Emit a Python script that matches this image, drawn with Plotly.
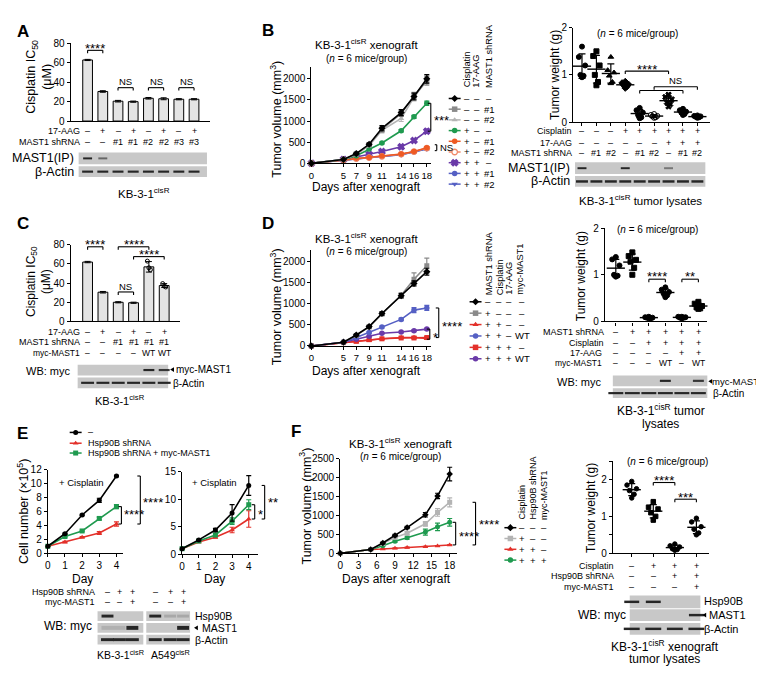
import numpy as np
import plotly.graph_objects as go

W, H = 764, 674
FONT = "Liberation Sans, Arial, Helvetica, sans-serif"

# ======================= DATA =======================
# Panel A
A_ic50 = [63, 30.5, 20.5, 20, 23.5, 23, 22.5, 22.5]
A_err = [0.6, 0.8, 0.8, 0.6, 0.8, 1.0, 0.6, 0.6]
A_aag = ['–', '+', '–', '+', '–', '+', '–', '+']
A_shrna = ['–', '–', '#1', '#1', '#2', '#2', '#3', '#3']
A_band_mast1 = [1.0, 0.6, 0, 0, 0, 0, 0, 0]
A_band_actin = [1, 1, 1, 1, 1, 1, 1, 1]

# Panel B (tumor volume)
B_days = [0, 5, 7, 9, 11, 14, 16, 18]
B_ctrl = [0, 90, 230, 450, 830, 1200, 1580, 2000]
B_sh1 = [0, 90, 220, 440, 800, 1180, 1600, 1950]
B_sh2 = [0, 90, 210, 420, 780, 1060, 1560, 1980]
B_cis = [0, 90, 180, 340, 480, 770, 1100, 1420]
B_cis_sh1 = [0, 80, 120, 140, 170, 220, 280, 370]
B_cis_sh2 = [0, 80, 110, 135, 165, 215, 275, 360]
B_cis_aag = [0, 90, 150, 210, 280, 390, 540, 760]
B_cis_aag_sh1 = [0, 80, 110, 140, 170, 210, 270, 350]
B_cis_aag_sh2 = [0, 80, 105, 135, 160, 205, 265, 340]
B_err_hi = [0, 10, 30, 30, 60, 70, 80, 100]
B_err_mid = [0, 8, 15, 15, 20, 25, 35, 50]
B_err_lo = [0, 5, 10, 10, 10, 15, 20, 25]
B_leg_cis = ['–', '–', '–', '+', '+', '+', '+', '+', '+']
B_leg_aag = ['–', '–', '–', '–', '–', '–', '+', '+', '+']
B_leg_sh = ['–', '#1', '#2', '–', '#1', '#2', '–', '#1', '#2']

# Panel B (tumor weight)
B_w_ctrl = [1.6, 1.38, 1.2, 1.0, 0.98, 0.95]
B_w_sh1 = [1.5, 1.4, 1.2, 1.0, 0.85, 0.78]
B_w_sh2 = [1.38, 1.1, 1.05, 0.98, 0.85, 0.82]
B_w_cis = [0.86, 0.83, 0.8, 0.78, 0.75, 0.72]
B_w_cis_sh1 = [0.3, 0.25, 0.2, 0.15, 0.1, 0.08]
B_w_cis_sh2 = [0.17, 0.15, 0.13, 0.12, 0.1, 0.09]
B_w_cis_aag = [0.58, 0.53, 0.48, 0.42, 0.38, 0.33]
B_w_cis_aag_sh1 = [0.28, 0.25, 0.22, 0.2, 0.17, 0.15]
B_w_cis_aag_sh2 = [0.14, 0.13, 0.12, 0.11, 0.1, 0.09]
B_row_cis = ['–', '–', '–', '+', '+', '+', '+', '+', '+']
B_row_aag = ['–', '–', '–', '–', '–', '–', '+', '+', '+']
B_row_sh = ['–', '#1', '#2', '–', '#1', '#2', '–', '#1', '#2']
B_band_mast1 = [1, 0, 0, 1, 0, 0, 0.5, 0, 0]
B_band_actin = [1, 1, 1, 1, 1, 1, 1, 1, 1]

# Panel C
C_ic50 = [62, 30.5, 20, 19.5, 57, 37.5]
C_err = [0.7, 0.8, 0.6, 0.6, 5.5, 2.0]
C_rep_wt = [63, 56, 54]
C_rep_wt_aag = [39.5, 37, 36]
C_aag = ['–', '+', '–', '+', '–', '+']
C_shrna = ['–', '–', '#1', '#1', '#1', '#1']
C_myc = ['–', '–', '–', '–', 'WT', 'WT']
C_band_myc = [0, 0, 0, 0, 1, 0.9]
C_band_actin = [1, 1, 1, 1, 1, 1]

# Panel D (tumor volume)
D_days = [0, 5, 7, 9, 11, 14, 16, 18]
D_ctrl = [0, 90, 260, 460, 770, 1190, 1480, 1760]
D_sh = [0, 90, 250, 450, 760, 1200, 1580, 1900]
D_sh_cis = [0, 80, 100, 130, 170, 200, 200, 180]
D_sh_cis_wt = [0, 90, 200, 320, 450, 630, 850, 900]
D_sh_cis_aag = [0, 80, 110, 150, 170, 190, 190, 200]
D_sh_cis_aag_wt = [0, 90, 160, 230, 300, 330, 360, 400]
D_err_ctrl = [0, 10, 20, 30, 40, 50, 60, 80]
D_err_sh = [0, 10, 20, 30, 40, 60, 150, 180]
D_err_wt = [0, 5, 10, 20, 20, 30, 60, 60]
D_err_lo = [0, 5, 10, 10, 10, 15, 20, 20]
D_leg_sh = ['–', '+', '+', '+', '+', '+']
D_leg_cis = ['–', '–', '+', '+', '+', '+']
D_leg_aag = ['–', '–', '–', '–', '+', '+']
D_leg_myc = ['–', '–', '–', 'WT', '–', 'WT']

# Panel D (tumor weight)
D_w_ctrl = [1.38, 1.33, 1.2, 1.0, 0.98, 0.96]
D_w_sh = [1.48, 1.4, 1.32, 1.28, 1.15, 1.0]
D_w_sh_cis = [0.1, 0.09, 0.08, 0.08, 0.07, 0.07]
D_w_sh_cis_wt = [0.73, 0.68, 0.63, 0.6, 0.56, 0.52]
D_w_sh_cis_aag = [0.1, 0.1, 0.09, 0.08, 0.08, 0.07]
D_w_sh_cis_aag_wt = [0.42, 0.38, 0.33, 0.3, 0.28, 0.27]
D_row_sh = ['–', '+', '+', '+', '+', '+']
D_row_cis = ['–', '–', '+', '+', '+', '+']
D_row_aag = ['–', '–', '–', '–', '+', '+']
D_row_myc = ['–', '–', '–', 'WT', '–', 'WT']
D_band_myc = [0, 0, 0, 1, 0, 0.9]
D_band_actin = [1, 1, 1, 1, 1, 1]

# Panel E
E_days = [0, 1, 2, 3, 4]
E_kb_ctrl = [1, 2.8, 5.5, 7.6, 11.1]
E_kb_sh = [1, 1.6, 2.3, 2.9, 4.2]
E_kb_sh_myc = [1, 2.4, 3.2, 5.0, 6.7]
E_kb_err_ctrl = [0, 0.1, 0.1, 0.3, 0.1]
E_kb_err_sh = [0, 0.1, 0.1, 0.2, 0.3]
E_kb_err_myc = [0, 0.1, 0.1, 0.2, 0.3]
E_a549_ctrl = [1, 2.6, 4.4, 7.5, 12.5]
E_a549_sh = [1, 2.2, 3.1, 4.4, 6.4]
E_a549_sh_myc = [1, 2.4, 3.5, 6.0, 9.0]
E_a549_err_ctrl = [0, 0.1, 0.3, 1.5, 1.8]
E_a549_err_sh = [0, 0.1, 0.2, 0.5, 1.5]
E_a549_err_myc = [0, 0.1, 0.3, 0.6, 0.9]
E_row_sh = ['–', '+', '+']
E_row_myc = ['–', '–', '+']
E_kb_band_hsp = [1, 0, 0]
E_kb_band_mast1 = [0.15, 0.15, 1]
E_a549_band_hsp = [1, 0.2, 0.2]
E_a549_band_mast1 = [0, 0, 1]
E_band_actin = [1, 1, 1]

# Panel F
F_days = [0, 5, 7, 9, 11, 14, 16, 18]
F_ctrl = [0, 100, 270, 470, 680, 1020, 1520, 2100]
F_cis = [0, 100, 260, 420, 530, 780, 1080, 1350]
F_cis_sh = [0, 100, 110, 130, 150, 170, 190, 220]
F_cis_sh_myc = [0, 100, 200, 320, 410, 560, 700, 820]
F_err_ctrl = [0, 10, 20, 30, 30, 60, 70, 180]
F_err_cis = [0, 10, 20, 30, 40, 60, 100, 120]
F_err_sh = [0, 5, 10, 10, 10, 10, 10, 10]
F_err_myc = [0, 10, 20, 30, 40, 80, 100, 100]
F_leg_cis = ['–', '+', '+', '+']
F_leg_sh = ['–', '–', '+', '+']
F_leg_myc = ['–', '–', '–', '+']
F_w_ctrl = [1.95, 1.85, 1.75, 1.7, 1.6, 1.5]
F_w_cis = [1.4, 1.25, 1.2, 1.1, 1.0, 0.9]
F_w_cis_sh = [0.25, 0.2, 0.17, 0.12, 0.1, 0.08]
F_w_cis_sh_myc = [0.95, 0.85, 0.72, 0.65, 0.55, 0.5]
F_row_cis = ['–', '+', '+', '+']
F_row_sh = ['–', '–', '+', '+']
F_row_myc = ['–', '–', '–', '+']
F_band_hsp = [1, 1, 0, 0]
F_band_mast1 = [0, 0, 0, 1]
F_band_actin = [1, 1, 1, 1]

# ======================= HELPERS =======================
traces, ann, shapes, layout = [], [], [], {}
BLACK = 'black'
GRAY = '#8a8a8a'
LGRAY = '#b4b4b4'
GREEN = '#1f9a4f'
ORANGE = '#ee5a24'
SALMON = '#f08a6a'
PURPLE = '#6a3aa8'
BLUE = '#5560c4'
RED = '#e3302a'
BLOT = '#c8c8c8'
ROW = 9          # row-label font size
TICK = 10        # tick label font size
STAR = 13        # significance asterisks
LET = 17         # panel letters


def xa(n):
    return 'x' if n == 1 else f'x{n}'


def ya(n):
    return 'y' if n == 1 else f'y{n}'


def lin(cal, v):
    v0, p0, v1, p1 = cal
    return p0 + (v - v0) * (p1 - p0) / (v1 - v0)


def inv(cal, p):
    v0, p0, v1, p1 = cal
    return v0 + (p - p0) * (v1 - v0) / (p1 - p0)


class Panel:
    def __init__(self, n, xd, yd, xcal, ycal):
        self.n, self.xd, self.yd, self.xcal, self.ycal = n, xd, yd, xcal, ycal

    def X(self, v):
        return lin(self.xcal, v)

    def Y(self, v):
        return lin(self.ycal, v)


def add_axes(P, xkw=None, ykw=None):
    base = dict(showline=True, linecolor='black', linewidth=1.2, showgrid=False,
                zeroline=False, ticks='outside', ticklen=3, tickwidth=1.1, tickangle=0,
                tickcolor='black', tickfont=dict(family=FONT, size=TICK, color='black'),
                fixedrange=True)
    xd = dict(base)
    xd.update(domain=[P.xd[0] / W, P.xd[1] / W],
              range=[inv(P.xcal, P.xd[0]), inv(P.xcal, P.xd[1])], anchor=ya(P.n))
    xd.update(xkw or {})
    yd = dict(base)
    yd.update(domain=[1 - P.yd[1] / H, 1 - P.yd[0] / H],
              range=[inv(P.ycal, P.yd[1]), inv(P.ycal, P.yd[0])], anchor=xa(P.n))
    yd.update(ykw or {})
    layout['xaxis' if P.n == 1 else f'xaxis{P.n}'] = xd
    layout['yaxis' if P.n == 1 else f'yaxis{P.n}'] = yd


def T(text, x, y, size=9, xanc='center', yanc='middle', angle=0, bold=False, color='black'):
    if bold:
        text = f'<b>{text}</b>'
    ann.append(dict(text=text, x=x / W, y=1 - y / H, xref='paper', yref='paper',
                    showarrow=False, xanchor=xanc, yanchor=yanc, textangle=angle,
                    font=dict(family=FONT, size=size, color=color)))


def S(text, x, y, xanc='center'):
    # asterisks sit high in the line box: shift the box down a little
    T(text, x, y + 3, size=STAR, xanc=xanc)


def L(x0, y0, x1, y1, w=1.1, c='black'):
    shapes.append(dict(type='line', xref='paper', yref='paper', x0=x0 / W, y0=1 - y0 / H,
                       x1=x1 / W, y1=1 - y1 / H, line=dict(color=c, width=w)))


def R(x0, y0, x1, y1, fill):
    shapes.append(dict(type='rect', xref='paper', yref='paper', x0=x0 / W, y0=1 - y0 / H,
                       x1=x1 / W, y1=1 - y1 / H, line=dict(width=0), fillcolor=fill))


def arrowhead(x, y, s=2.4):
    path = (f'M {x / W} {1 - y / H} L {(x + 1.6 * s) / W} {1 - (y - s) / H} '
            f'L {(x + 1.6 * s) / W} {1 - (y + s) / H} Z')
    shapes.append(dict(type='path', xref='paper', yref='paper', path=path,
                       fillcolor='black', line=dict(width=0)))


def hbr(x0, x1, y, tick=3):
    L(x0, y, x1, y)
    L(x0, y, x0, y + tick)
    L(x1, y, x1, y + tick)


def vbr(x, y0, y1, tick=3):
    L(x, y0, x, y1)
    L(x, y0, x - tick, y0)
    L(x, y1, x - tick, y1)


def rows(xs, labels, y, size=ROW):
    for x, lab in zip(xs, labels):
        T(lab, x, y, size=size)


def blot(xs, bx0, bx1, y0, y1, inten, bw=10, bh=2.5):
    R(bx0, y0, bx1, y1, BLOT)
    yc = (y0 + y1) / 2
    for x, v in zip(xs, inten):
        if v > 0:
            shapes.append(dict(type='rect', xref='paper', yref='paper',
                               x0=(x - bw / 2) / W, x1=(x + bw / 2) / W,
                               y0=1 - (yc + bh / 2) / H, y1=1 - (yc - bh / 2) / H,
                               line=dict(width=0), fillcolor='#262626', opacity=v))


def series(P, xs, ys, err, color, symbol, size=5.5, open_=False, lw=1.6):
    mk = dict(symbol=symbol, size=size, color='white' if open_ else color,
              line=dict(color=color, width=1.3 if (open_ or symbol == 'x') else 0))
    traces.append(go.Scatter(x=xs, y=ys, mode='lines+markers', line=dict(color=color, width=lw),
                             marker=mk, cliponaxis=False,
                             error_y=dict(type='data', array=err, color=color, thickness=1.2, width=2.5),
                             xaxis=xa(P.n), yaxis=ya(P.n), showlegend=False, hoverinfo='skip'))


JIT = [0.0, -0.22, 0.22, -0.11, 0.11, 0.0]


def dotplot(P, groups, symbols, size=5, mw=13):
    for i, vals in enumerate(groups):
        xs = [i + JIT[k] for k in range(len(vals))]
        sym = symbols[i]
        traces.append(go.Scatter(x=xs, y=vals, mode='markers', cliponaxis=False,
                                 marker=dict(symbol=sym, size=size, color='black',
                                             line=dict(color='black', width=1)),
                                 xaxis=xa(P.n), yaxis=ya(P.n), showlegend=False, hoverinfo='skip'))
        m = float(np.mean(vals))
        s = float(np.std(vals, ddof=1))
        traces.append(go.Scatter(x=[i], y=[m], mode='markers', cliponaxis=False,
                                 marker=dict(symbol='line-ew', size=mw, color='black',
                                             line=dict(color='black', width=1.4)),
                                 error_y=dict(type='data', array=[s], color='black', thickness=1.2, width=3.5),
                                 xaxis=xa(P.n), yaxis=ya(P.n), showlegend=False, hoverinfo='skip'))


# pixel overlay axis (for legend keys)
PX = 11


def legkey(x, y, color, symbol, size=5.5, open_=False, half=6):
    traces.append(go.Scatter(x=[x - half, x + half], y=[y, y], mode='lines',
                             line=dict(color=color, width=1.5), xaxis=xa(PX), yaxis=ya(PX),
                             showlegend=False, hoverinfo='skip'))
    traces.append(go.Scatter(x=[x], y=[y], mode='markers',
                             marker=dict(symbol=symbol, size=size, color='white' if open_ else color,
                                         line=dict(color=color, width=1.3 if (open_ or symbol == 'x') else 0)),
                             xaxis=xa(PX), yaxis=ya(PX), showlegend=False, hoverinfo='skip'))


# ======================= PANELS =======================
PA = Panel(1, (60, 200), (30, 109), (0, 77, 7, 184), (0, 109, 80, 30))
PBL = Panel(2, (302, 422), (54, 152), (0, 302, 18, 418), (0, 152, 2000, 66))
PBR = Panel(3, (565, 703), (14, 110), (0, 574, 8, 690), (0, 110, 2, 14))
PC = Panel(4, (60, 170), (235, 313), (0, 77, 5, 154), (0, 313, 80, 235))
PDL = Panel(5, (302, 422), (240, 338), (0, 302, 18, 418), (0, 338, 2000, 252))
PDR = Panel(6, (597, 700), (218, 313), (0, 608, 5, 691), (0, 313, 2, 218))
PEL = Panel(7, (37, 113), (464, 549), (0, 37, 4, 106), (0, 549, 12, 464))
PER = Panel(8, (172, 248), (466, 550), (0, 172, 4, 239), (0, 550, 15, 466))
PFL = Panel(9, (331, 448), (453, 549), (0, 331, 18, 441), (0, 549, 2500, 453))
PFR = Panel(10, (605, 702), (455, 549), (0, 624, 3, 689), (0, 549, 2, 474))

nobar = dict(ticks='', showticklabels=False)
dayfont = dict(family=FONT, size=9.5, color='black')

# ---------- Panel A ----------
add_axes(PA, nobar, dict(tickvals=[0, 20, 40, 60, 80]))
traces.append(go.Bar(x=list(range(len(A_ic50))), y=A_ic50, width=0.64,
                     marker=dict(color='#e4e4e4', line=dict(color='black', width=1)),
                     error_y=dict(type='data', array=A_err, color='black', thickness=1, width=3),
                     xaxis='x', yaxis='y', showlegend=False, hoverinfo='skip'))
T('A', 12, 18, size=LET, bold=True)
T('Cisplatin IC<sub>50</sub><br>(μM)', 28, 64, size=12.5, angle=-90)
ax = [PA.X(i) for i in range(8)]
hbr(ax[0], ax[1], 37)
S('****', (ax[0] + ax[1]) / 2, 32)
for a, b in [(2, 3), (4, 5), (6, 7)]:
    hbr(ax[a], ax[b], 75)
    T('NS', (ax[a] + ax[b]) / 2, 69, size=9.5)
T('17-AAG', 71, 119, size=ROW, xanc='right')
T('MAST1 shRNA', 71, 130, size=ROW, xanc='right')
rows(ax, A_aag, 119)
rows(ax, A_shrna, 130)
blot(ax, 68, 197, 141, 153, A_band_mast1, bw=9, bh=2)
blot(ax, 68, 197, 155, 166, A_band_actin, bw=11, bh=2.2)
T('MAST1(IP)', 65, 147, size=12.5, xanc='right')
T('β-Actin', 65, 161, size=12.5, xanc='right')
T('KB-3-1<sup>cisR</sup>', 134, 182, size=11.5)

# ---------- Panel B (volume) ----------
add_axes(PBL, dict(tickvals=B_days, tickfont=dayfont), dict(tickvals=[0, 500, 1000, 1500, 2000]))
series(PBL, B_days, B_cis_aag_sh2, B_err_lo, BLUE, 'triangle-down')
series(PBL, B_days, B_cis_aag_sh1, B_err_lo, BLUE, 'circle')
series(PBL, B_days, B_cis_aag, B_err_mid, PURPLE, 'x', size=5.5)
series(PBL, B_days, B_cis_sh2, B_err_lo, SALMON, 'circle', open_=True)
series(PBL, B_days, B_cis_sh1, B_err_lo, ORANGE, 'circle')
series(PBL, B_days, B_cis, B_err_mid, GREEN, 'circle')
series(PBL, B_days, B_sh2, B_err_hi, LGRAY, 'triangle-up')
series(PBL, B_days, B_sh1, B_err_hi, GRAY, 'square', size=5)
series(PBL, B_days, B_ctrl, B_err_hi, BLACK, 'diamond')
T('B', 258, 17, size=LET, bold=True)
T('KB-3-1<sup>cisR</sup> xenograft', 357, 31, size=11.5)
T('(<i>n</i> = 6 mice/group)', 357, 45, size=10)
T('Tumor volume (mm<sup>3</sup>)', 266, 107, size=12.5, angle=-90)
T('Days after xenograft', 357, 176, size=12)
vbr(422, PBL.Y(1420), PBL.Y(760))
S('***', 423, (PBL.Y(1420) + PBL.Y(760)) / 2, xanc='left')
L(426, PBL.Y(370) - 3, 428, PBL.Y(370) - 3)
L(428, PBL.Y(370) - 3, 428, PBL.Y(370) + 3)
L(426, PBL.Y(370) + 3, 428, PBL.Y(370) + 3)
T('NS', 429, PBL.Y(370), size=9.5, xanc='left')
for x, lab in [(458, 'Cisplatin'), (468, '17-AAG'), (480, 'MAST1 shRNA')]:
    T(lab, x, 77, size=9.3, angle=-90, yanc='bottom')
B_keys = [(BLACK, 'diamond', False), (GRAY, 'square', False), (LGRAY, 'triangle-up', False),
          (GREEN, 'circle', False), (ORANGE, 'circle', False), (SALMON, 'circle', True),
          (PURPLE, 'x', False), (BLUE, 'circle', False), (BLUE, 'triangle-down', False)]
for r, (c, s, o) in enumerate(B_keys):
    yy = 86 + r * 10.9
    legkey(446, yy, c, s, open_=o)
    T(B_leg_cis[r], 458, yy, size=9.5)
    T(B_leg_aag[r], 468, yy, size=9.5)
    T(B_leg_sh[r], 481, yy, size=9.5)

# ---------- Panel B (weight) ----------
add_axes(PBR, dict(tickvals=list(range(9)), showticklabels=False, ticklen=3),
         dict(tickvals=[0, 1, 2]))
dotplot(PBR, [B_w_ctrl, B_w_sh1, B_w_sh2, B_w_cis, B_w_cis_sh1, B_w_cis_sh2,
              B_w_cis_aag, B_w_cis_aag_sh1, B_w_cis_aag_sh2],
        ['circle', 'square', 'triangle-up', 'diamond', 'circle', 'circle-open', 'x', 'circle', 'circle'])
bx = [PBR.X(i) for i in range(9)]
T('(<i>n</i> = 6 mice/group)', 630, 20, size=10)
T('Tumor weight (g)', 547, 62, size=12, angle=-90)
hbr(bx[3], bx[6], PBR.Y(1.08))
S('****', (bx[3] + bx[6]) / 2, PBR.Y(1.08) - 5)
hbr(bx[4], bx[7], PBR.Y(0.67))
hbr(bx[5], bx[8], PBR.Y(0.75))
T('NS', (bx[5] + bx[8]) / 2, PBR.Y(0.75) - 6, size=9.5)
T('Cisplatin', 566, 119, size=ROW, xanc='right')
T('17-AAG', 566, 131, size=ROW, xanc='right')
T('MAST1 shRNA', 566, 142, size=ROW, xanc='right')
rows(bx, B_row_cis, 119)
rows(bx, B_row_aag, 131)
rows(bx, B_row_sh, 142)
blot(bx, 567, 698, 151, 163, B_band_mast1, bw=9, bh=2)
blot(bx, 567, 698, 165, 176, B_band_actin, bw=12, bh=2.5)
T('MAST1(IP)', 564, 157, size=12.5, xanc='right')
T('β-Actin', 564, 170, size=12.5, xanc='right')
T('KB-3-1<sup>cisR</sup> tumor lysates', 633, 189, size=11.5)

# ---------- Panel C ----------
add_axes(PC, nobar, dict(tickvals=[0, 20, 40, 60, 80]))
traces.append(go.Bar(x=list(range(len(C_ic50))), y=C_ic50, width=0.64,
                     marker=dict(color='#e4e4e4', line=dict(color='black', width=1)),
                     error_y=dict(type='data', array=C_err, color='black', thickness=1, width=3),
                     xaxis='x4', yaxis='y4', showlegend=False, hoverinfo='skip'))
traces.append(go.Scatter(x=[3.9, 4.0, 4.1], y=C_rep_wt, mode='markers',
                         marker=dict(symbol='circle-open', size=4, color='black'),
                         xaxis='x4', yaxis='y4', showlegend=False, hoverinfo='skip'))
traces.append(go.Scatter(x=[4.9, 5.0, 5.1], y=C_rep_wt_aag, mode='markers',
                         marker=dict(symbol='circle-open', size=4, color='black'),
                         xaxis='x4', yaxis='y4', showlegend=False, hoverinfo='skip'))
cx = [PC.X(i) for i in range(6)]
T('C', 12, 213, size=LET, bold=True)
T('Cisplatin IC<sub>50</sub><br>(μM)', 28, 272, size=12, angle=-90)
hbr(cx[0], cx[1], 237)
S('****', (cx[0] + cx[1]) / 2, 232)
hbr(cx[2], cx[4], 237)
S('****', (cx[2] + cx[4]) / 2, 232)
hbr(cx[3], cx[5], 247)
S('****', (cx[3] + cx[5]) / 2, 242)
hbr(cx[2], cx[3], 283)
T('NS', (cx[2] + cx[3]) / 2, 277, size=9.5)
T('17-AAG', 71, 324, size=ROW, xanc='right')
T('MAST1 shRNA', 71, 334, size=ROW, xanc='right')
T('myc-MAST1', 71, 345, size=ROW - 0.5, xanc='right')
rows(cx, C_aag, 324)
rows(cx, C_shrna, 334)
rows(cx, C_myc, 345, size=ROW - 0.5)
T('WB: myc', 37, 363, size=11)
blot(cx, 67, 158, 357, 368, C_band_myc, bw=11, bh=2.2)
blot(cx, 67, 158, 370, 381, C_band_actin, bw=13, bh=2.2)
arrowhead(160, 362)
T('myc-MAST1', 164, 362, size=10, xanc='left')
T('β-Actin', 161, 376, size=10, xanc='left')
T('KB-3-1<sup>cisR</sup>', 110, 393, size=11)

# ---------- Panel D (volume) ----------
add_axes(PDL, dict(tickvals=D_days, tickfont=dayfont), dict(tickvals=[0, 500, 1000, 1500, 2000]))
series(PDL, D_days, D_sh_cis_aag, D_err_lo, RED, 'square', size=5)
series(PDL, D_days, D_sh_cis, D_err_lo, RED, 'triangle-up')
series(PDL, D_days, D_sh_cis_aag_wt, D_err_lo, PURPLE, 'circle')
series(PDL, D_days, D_sh_cis_wt, D_err_wt, BLUE, 'circle')
series(PDL, D_days, D_sh, D_err_sh, GRAY, 'square', size=5)
series(PDL, D_days, D_ctrl, D_err_ctrl, BLACK, 'diamond')
T('D', 258, 213, size=LET, bold=True)
T('KB-3-1<sup>cisR</sup> xenograft', 357, 228, size=11.5)
T('(<i>n</i> = 6 mice/group)', 357, 242, size=10)
T('Tumor volume (mm<sup>3</sup>)', 266, 298, size=12.5, angle=-90)
T('Days after xenograft', 357, 363, size=12)
vbr(430, PDL.Y(900), PDL.Y(200))
S('****', 431, 315, xanc='left')
vbr(421, PDL.Y(400), PDL.Y(160))
S('*', 422, PDL.Y(280), xanc='left')
for x, lab in [(480, 'MAST1 shRNA'), (491, 'Cisplatin'), (501, '17-AAG'), (512, 'myc-MAST1')]:
    T(lab, x, 288, size=9.3, angle=-90, yanc='bottom')
D_keys = [(BLACK, 'diamond', False), (GRAY, 'square', False), (RED, 'triangle-up', False),
          (BLUE, 'circle', False), (RED, 'square', False), (PURPLE, 'circle', False)]
for r, (c, s, o) in enumerate(D_keys):
    yy = 293 + r * 11.6
    legkey(467, yy, c, s, open_=o)
    T(D_leg_sh[r], 480, yy, size=9.5)
    T(D_leg_cis[r], 491, yy, size=9.5)
    T(D_leg_aag[r], 501, yy, size=9.5)
    T(D_leg_myc[r], 514, yy, size=9.5)

# ---------- Panel D (weight) ----------
add_axes(PDR, dict(tickvals=list(range(6)), showticklabels=False),
         dict(tickvals=[0, 1, 2]))
dotplot(PDR, [D_w_ctrl, D_w_sh, D_w_sh_cis, D_w_sh_cis_wt, D_w_sh_cis_aag, D_w_sh_cis_aag_wt],
        ['circle', 'square', 'circle', 'circle', 'circle', 'square'])
dx = [PDR.X(i) for i in range(6)]
T('(<i>n</i> = 6 mice/group)', 650, 219, size=10)
T('Tumor weight (g)', 573, 267, size=12, angle=-90)
hbr(dx[2], dx[3], 270)
S('****', (dx[2] + dx[3]) / 2, 264)
hbr(dx[4], dx[5], 270)
S('**', (dx[4] + dx[5]) / 2, 264)
T('MAST1 shRNA', 598, 324, size=ROW, xanc='right')
T('Cisplatin', 598, 335, size=ROW, xanc='right')
T('17-AAG', 596, 345, size=ROW, xanc='right')
T('myc-MAST1', 596, 355, size=ROW - 0.5, xanc='right')
rows(dx, D_row_sh, 324)
rows(dx, D_row_cis, 335)
rows(dx, D_row_aag, 345)
rows(dx, D_row_myc, 355, size=ROW - 0.5)
T('WB: myc', 571, 375, size=11)
blot(dx, 605, 700, 368, 379, D_band_myc, bw=11, bh=2.2)
blot(dx, 605, 700, 381, 391, D_band_actin, bw=15, bh=2.2)
arrowhead(701, 374)
T('myc-MAST1', 759, 374, size=9.5, xanc='right')
T('β-Actin', 704, 386, size=10, xanc='left')
T('KB-3-1<sup>cisR</sup> tumor', 653, 403, size=12)
T('lysates', 653, 417, size=12)

# ---------- Panel E ----------
add_axes(PEL, dict(tickvals=E_days), dict(tickvals=[0, 2, 4, 6, 8, 10, 12]))
add_axes(PER, dict(tickvals=E_days), dict(tickvals=[0, 5, 10, 15]))
series(PEL, E_days, E_kb_sh, E_kb_err_sh, RED, 'triangle-up', size=5)
series(PEL, E_days, E_kb_sh_myc, E_kb_err_myc, GREEN, 'square', size=5)
series(PEL, E_days, E_kb_ctrl, E_kb_err_ctrl, BLACK, 'circle', size=5)
series(PER, E_days, E_a549_sh, E_a549_err_sh, RED, 'triangle-up', size=5)
series(PER, E_days, E_a549_sh_myc, E_a549_err_myc, GREEN, 'square', size=5)
series(PER, E_days, E_a549_ctrl, E_a549_err_ctrl, BLACK, 'circle', size=5)
T('E', 12, 427, size=LET, bold=True)
legkey(65, 426, BLACK, 'circle', size=5)
legkey(65, 437, RED, 'triangle-up', size=5)
legkey(65, 447, GREEN, 'square', size=5)
T('–', 75, 426, size=9, xanc='left')
T('Hsp90B shRNA', 75, 437, size=9, xanc='left')
T('Hsp90B shRNA + myc-MAST1', 75, 447, size=9, xanc='left')
T('+ Cisplatin', 46, 477, size=9.5, xanc='left')
T('+ Cisplatin', 180, 477, size=9.5, xanc='left')
T('Cell number (×10<sup>5</sup>)', 12, 506, size=12.5, angle=-90)
T('Day', 72, 575, size=12)
T('Day', 205, 575, size=12)
vbr(130, PEL.Y(11.1), PEL.Y(4.2))
S('****', 131, 494, xanc='left')
vbr(111, PEL.Y(6.7), PEL.Y(4.2))
S('****', 112, 507, xanc='left')
vbr(255, PER.Y(12.5), PER.Y(6.4))
S('**', 256, 494, xanc='left')
vbr(245, PER.Y(9.0), PER.Y(6.4))
S('*', 246, 507, xanc='left')
T('Hsp90B shRNA', 86, 588, size=ROW, xanc='right')
T('myc-MAST1', 86, 599, size=ROW, xanc='right')
ekx = [97, 109, 122]
eax = [145, 160, 173]
rows(ekx, E_row_sh, 588)
rows(ekx, E_row_myc, 599)
rows(eax, E_row_sh, 588)
rows(eax, E_row_myc, 599)
blot(ekx, 87, 133, 608, 618, E_kb_band_hsp, bw=12, bh=3)
blot(ekx, 87, 133, 620, 630, E_kb_band_mast1, bw=12, bh=4)
blot(ekx, 87, 133, 632, 642, E_band_actin, bw=13, bh=3)
blot(eax, 136, 180, 608, 618, E_a549_band_hsp, bw=12, bh=3)
blot(eax, 136, 180, 620, 630, E_a549_band_mast1, bw=12, bh=4)
blot(eax, 136, 180, 632, 642, E_band_actin, bw=13, bh=3)
T('Hsp90B', 183, 613, size=10.5, xanc='left')
arrowhead(184, 625)
T('MAST1', 190, 625, size=10.5, xanc='left')
T('β-Actin', 183, 637, size=10.5, xanc='left')
T('WB: myc', 57, 623, size=12)
T('KB-3-1<sup>cisR</sup>', 110, 652, size=10.5)
T('A549<sup>cisR</sup>', 160, 652, size=10.5)

# ---------- Panel F (volume) ----------
add_axes(PFL, dict(tickvals=[0, 3, 6, 9, 12, 15, 18]), dict(tickvals=[0, 500, 1000, 1500, 2000, 2500]))
series(PFL, F_days, F_cis_sh, F_err_sh, RED, 'triangle-up', size=5)
series(PFL, F_days, F_cis_sh_myc, F_err_myc, GREEN, 'circle', size=5)
series(PFL, F_days, F_cis, F_err_cis, LGRAY, 'square', size=5)
series(PFL, F_days, F_ctrl, F_err_ctrl, BLACK, 'diamond', size=5)
T('F', 287, 425, size=LET, bold=True)
T('KB-3-1<sup>cisR</sup> xenograft', 392, 437, size=11.5)
T('(<i>n</i> = 6 mice/group)', 392, 451, size=10)
T('Tumor volume (mm<sup>3</sup>)', 296, 501, size=12.5, angle=-90)
T('Days after xenograft', 388, 575, size=12)
vbr(467, PFL.Y(1350), PFL.Y(220))
S('****', 468, 517, xanc='left')
vbr(447, PFL.Y(820), PFL.Y(220))
S('****', 448, 529, xanc='left')
for x, lab in [(514, 'Cisplatin'), (525, 'Hsp90B shRNA'), (536, 'myc-MAST1')]:
    T(lab, x, 517, size=9, angle=-90, yanc='bottom')
F_keys = [(BLACK, 'diamond', False), (LGRAY, 'square', False), (RED, 'triangle-up', False),
          (GREEN, 'circle', False)]
for r, (c, s, o) in enumerate(F_keys):
    yy = 523 + r * 11
    legkey(502, yy, c, s, open_=o)
    T(F_leg_cis[r], 514, yy, size=9.5)
    T(F_leg_sh[r], 525, yy, size=9.5)
    T(F_leg_myc[r], 536, yy, size=9.5)

# ---------- Panel F (weight) ----------
add_axes(PFR, dict(tickvals=list(range(4)), showticklabels=False),
         dict(tickvals=[0, 0.5, 1, 1.5, 2, 2.5], ticktext=['0', ' ', '1', ' ', '2', ' ']))
dotplot(PFR, [F_w_ctrl, F_w_cis, F_w_cis_sh, F_w_cis_sh_myc],
        ['circle', 'square', 'circle', 'circle'], size=4.5)
fx = [PFR.X(i) for i in range(4)]
T('(<i>n</i> = 6 mice/group)', 660, 456, size=10)
T('Tumor weight (g)', 583, 503, size=12, angle=-90)
hbr(fx[1], fx[2], 477)
S('****', (fx[1] + fx[2]) / 2, 472)
hbr(fx[2], fx[3], 494)
S('***', (fx[2] + fx[3]) / 2, 489)
T('Cisplatin', 608, 562, size=ROW, xanc='right')
T('Hsp90B shRNA', 608, 572, size=ROW, xanc='right')
T('myc-MAST1', 608, 583, size=ROW, xanc='right')
rows(fx, F_row_cis, 562)
rows(fx, F_row_sh, 572)
rows(fx, F_row_myc, 583)
blot(fx, 622, 693, 592, 605, F_band_hsp, bw=15, bh=2.5)
blot(fx, 622, 693, 606, 618, F_band_mast1, bw=15, bh=2.5)
blot(fx, 622, 693, 620, 632, F_band_actin, bw=16, bh=2.5)
T('Hsp90B', 695, 598, size=11, xanc='left')
arrowhead(695, 612)
T('MAST1', 700, 612, size=11, xanc='left')
T('β-Actin', 695, 626, size=11, xanc='left')
T('WB: myc', 594, 612, size=12)
T('KB-3-1<sup>cisR</sup> xenograft', 657, 643, size=12)
T('tumor lysates', 657, 657, size=12)

# pixel overlay axes
layout['xaxis11'] = dict(domain=[0, 1], range=[0, W], visible=False, fixedrange=True, anchor='y11')
layout['yaxis11'] = dict(domain=[0, 1], range=[H, 0], visible=False, fixedrange=True, anchor='x11')

layout.update(width=W, height=H, margin=dict(l=0, r=0, t=0, b=0), autosize=False,
              paper_bgcolor='white', plot_bgcolor='rgba(0,0,0,0)', showlegend=False,
              font=dict(family=FONT, color='black'), annotations=ann, shapes=shapes,
              bargap=0.3)

fig = go.Figure(data=traces, layout=layout)
fig.write_html("out.html")
